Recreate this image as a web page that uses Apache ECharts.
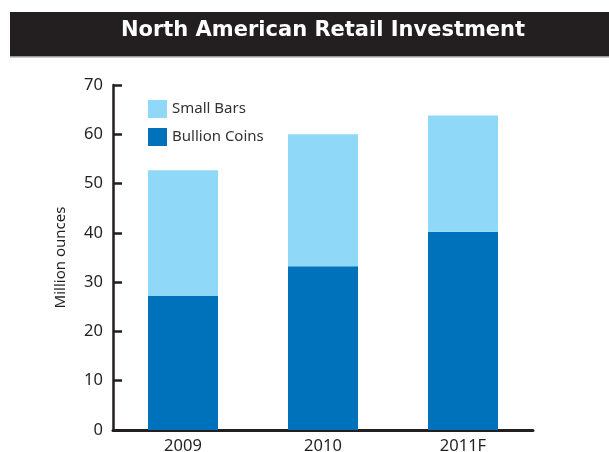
<!DOCTYPE html>
<html>
<head>
<meta charset="utf-8">
<script src="https://cdn.jsdelivr.net/npm/echarts@6/dist/echarts.min.js"></script>
<style>
  html, body { margin: 0; padding: 0; background: #ffffff; }
  #chart { width: 609px; height: 452px; }
</style>
</head>
<body>
<div id="chart"></div>
<script>
// data (million ounces)
var years = ['2009', '2010', '2011F'];
var bullionCoins = [27.2, 33.2, 40.2];
var smallBars = [25.5, 26.8, 23.6];

var chart = echarts.init(document.getElementById('chart'));
chart.setOption({
  animation: false,
  textStyle: { fontFamily: '"Noto Sans", "Open Sans", sans-serif' },
  graphic: [
    {
      type: 'rect',
      shape: { x: 10, y: 12, width: 599, height: 44 },
      style: { fill: '#231f20' }
    },
    {
      type: 'rect',
      shape: { x: 10, y: 56, width: 599, height: 1.5 },
      style: { fill: '#9a9a9a' }
    },
    {
      type: 'text',
      x: 323,
      y: 31,
      style: {
        text: 'North American Retail Investment',
        fill: '#ffffff',
        font: 'bold 21px "DejaVu Sans", sans-serif',
        align: 'center',
        verticalAlign: 'middle'
      }
    }
  ],
  legend: {
    left: 143,
    top: 95,
    orient: 'vertical',
    itemWidth: 19,
    itemHeight: 18,
    itemGap: 10,
    icon: 'rect',
    data: ['Small Bars', 'Bullion Coins'],
    textStyle: { fontSize: 15, color: '#333333', padding: [0, 0, 0, 0] }
  },
  grid: { left: 113, right: 76, top: 85, bottom: 22, containLabel: false, outerBoundsMode: 'none' },
  xAxis: {
    type: 'category',
    data: years,
    axisLine: { lineStyle: { color: '#231f20', width: 3 } },
    axisTick: { show: false },
    axisLabel: { fontSize: 16.5, color: '#231f20', margin: 8 }
  },
  yAxis: {
    type: 'value',
    min: 0,
    max: 70,
    interval: 10,
    name: 'Million ounces',
    nameLocation: 'middle',
    nameGap: 45,
    nameTextStyle: { fontSize: 15, color: '#231f20' },
    axisLine: { show: true, lineStyle: { color: '#231f20', width: 2.5 } },
    axisTick: { show: true, inside: true, length: 9, lineStyle: { color: '#231f20', width: 2.5 } },
    axisLabel: { fontSize: 16.5, color: '#231f20', margin: 10 },
    splitLine: { show: false }
  },
  series: [
    {
      name: 'Bullion Coins',
      type: 'bar',
      stack: 'total',
      barWidth: '50%',
      itemStyle: { color: '#0071bb' },
      data: bullionCoins
    },
    {
      name: 'Small Bars',
      type: 'bar',
      stack: 'total',
      barWidth: '50%',
      itemStyle: { color: '#8fd8f7' },
      data: smallBars
    }
  ]
});
</script>
</body>
</html>
